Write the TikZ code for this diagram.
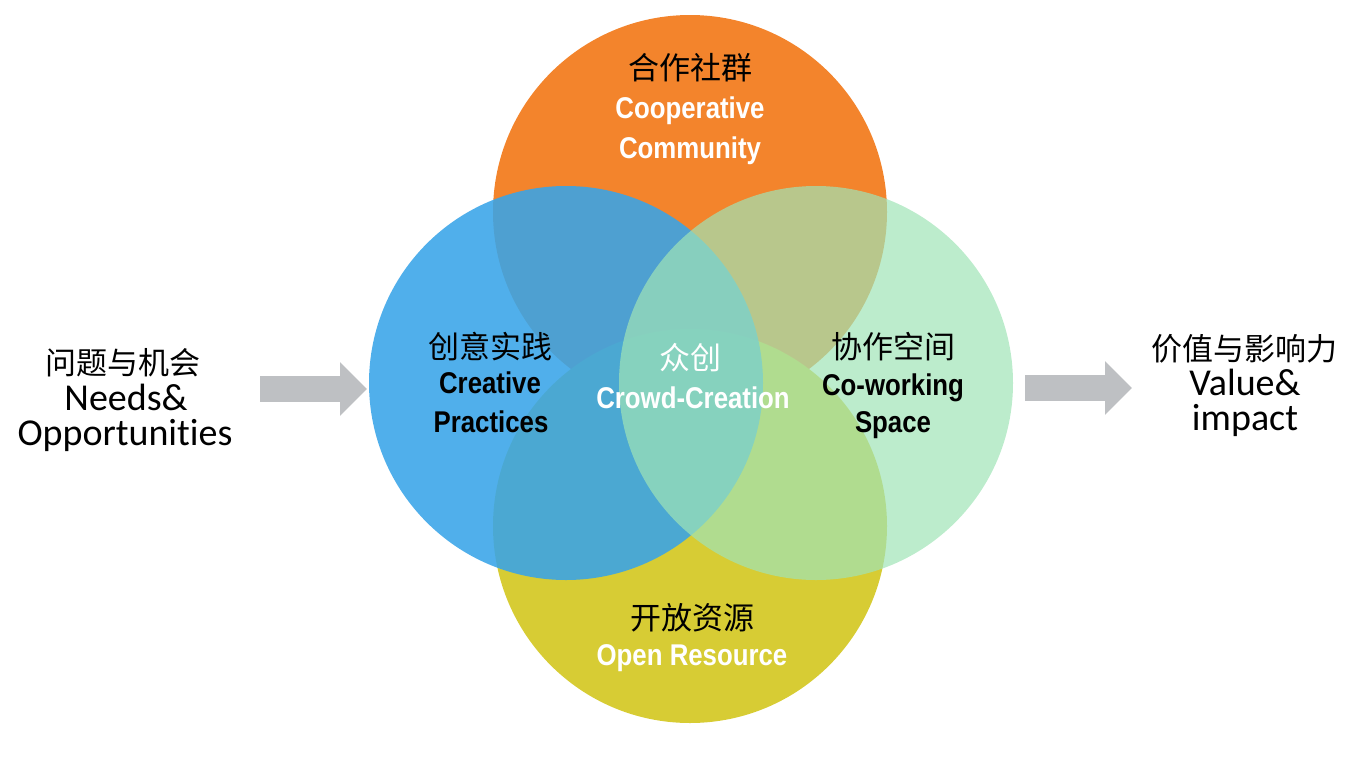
\documentclass[tikz,border=0pt]{standalone}
\usepackage{fontspec}
\setmainfont{Liberation Sans}
\newfontfamily\zhfont{Noto Sans CJK SC}
\newfontfamily\carlfont[Ligatures=NoCommon]{Carlito}
\usetikzlibrary{arrows.meta}
\definecolor{orangeC}{RGB}{243,132,44}
\definecolor{yellowC}{RGB}{215,204,52}
\definecolor{blueC}{RGB}{56,164,232}
\definecolor{greenC}{RGB}{160,228,182}
\definecolor{arrowC}{RGB}{190,192,195}
\newcommand{\cnd}[1]{\scalebox{0.86}[1]{#1}}
\begin{document}
\begin{tikzpicture}[x=1pt,y=-1pt,
  ring/.style={circle, minimum size=394pt, inner sep=0pt, outer sep=0pt},
  zh/.style={font=\zhfont\fontsize{31}{36}\selectfont, inner sep=0pt},
  en/.style={font=\bfseries\fontsize{30}{36}\selectfont, anchor=base, inner sep=0pt},
  side/.style={font=\carlfont\fontsize{38}{44}\selectfont, anchor=base, inner sep=0pt},
  flow/.style={draw=arrowC, line width=26pt, -{Triangle[length=27pt,width=52pt]}}
]
\useasboundingbox (0,0) rectangle (1363,772);
% circles
\node[ring, fill=orangeC] (orange) at (690,212) {};
\node[ring, fill=yellowC] (yellow) at (690,526) {};
\node[ring, fill=blueC, fill opacity=0.88] (blue) at (566,383) {};
\node[ring, fill=greenC, fill opacity=0.7] (green) at (816,383) {};
% orange labels
\node[zh, text=black] (orZh) at (690,68) {合作社群};
\node[en, text=white] (orEn1) at (690,118) {\cnd{Cooperative}};
\node[en, text=white] (orEn2) at (690,158) {\cnd{Community}};
% blue labels
\node[zh, text=black] (blZh) at (490,347) {创意实践};
\node[en, text=black] (blEn1) at (490,393) {\cnd{Creative}};
\node[en, text=black] (blEn2) at (491,432) {\cnd{Practices}};
% center labels
\node[zh, text=white] (ceZh) at (690,358) {众创};
\node[en, text=white] (ceEn) at (693,408) {\cnd{Crowd-Creation}};
% green labels
\node[zh, text=black] (grZh) at (893,347) {协作空间};
\node[en, text=black] (grEn1) at (893,395) {\cnd{Co-working}};
\node[en, text=black] (grEn2) at (893,432) {\cnd{Space}};
% yellow labels
\node[zh, text=black] (yeZh) at (692,618) {开放资源};
\node[en, text=white] (yeEn) at (692,665) {\cnd{Open Resource}};
% side texts
\node[zh, text=black] (inZh) at (123,363) {问题与机会};
\node[side] (inEn1) at (126,410) {Needs\&};
\node[side] (inEn2) at (125,445) {Opportunities};
\node[zh, text=black] (outZh) at (1244,349) {价值与影响力};
\node[side] (outEn1) at (1245,395) {Value\&};
\node[side] (outEn2) at (1245,430) {impact};
% arrows
\coordinate (la) at (260,389);
\coordinate (lb) at (367,389);
\coordinate (ra) at (1025,388);
\coordinate (rb) at (1132,388);
\draw[flow] (la) -- (lb);
\draw[flow] (ra) -- (rb);
\end{tikzpicture}
\end{document}
